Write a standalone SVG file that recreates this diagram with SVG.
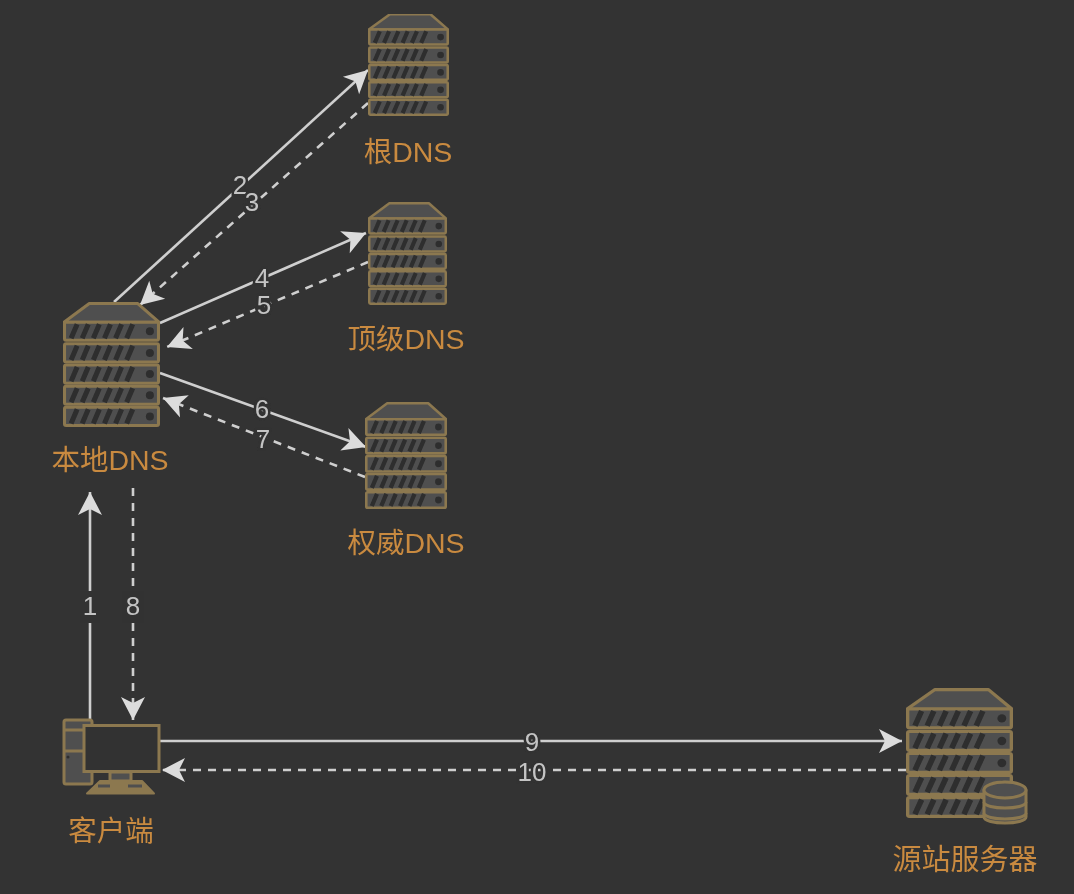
<svg xmlns="http://www.w3.org/2000/svg" width="1074" height="894" viewBox="0 0 1074 894">
<style>
.lbl{font-family:"Liberation Sans","Noto Sans CJK SC",sans-serif;font-size:28.500px;fill:#c98a3f;text-anchor:middle}
.num{font-family:"Liberation Sans",sans-serif;font-size:26px;fill:#c4c4c4;text-anchor:middle;paint-order:stroke;stroke:#333333;stroke-width:5px}
.e{fill:none;stroke:#cfcfcf;stroke-width:2.600;marker-end:url(#arr)}
.d{stroke-dasharray:8 7}
.ic{fill:#505050;stroke:#8c7850;stroke-width:3;stroke-linejoin:round}
.sl{fill:none;stroke:#2e2e2e;stroke-width:5}
.kn{fill:#2e2e2e}
.bg{fill:#333333}
</style>
<defs>
<filter id="soft" x="0" y="0" width="100%" height="100%"><feGaussianBlur stdDeviation="0.700"/></filter>
<marker id="arr" markerUnits="userSpaceOnUse" markerWidth="30" markerHeight="30" viewBox="-26 -15 30 30" refX="0" refY="0" orient="auto">
<path d="M-23,-12 L0,0 L-23,12 L-17,0Z" fill="#dcdcdc"/>
</marker>
<g id="row">
<rect class="ic" x="1.500" y="0" width="93" height="18" rx="1.500"/>
<path class="sl" d="M8,16L14,2M19,16L25,2M30,16L36,2M41,16L47,2M52,16L58,2M63,16L69,2"/>
<circle class="kn" cx="86" cy="9" r="4"/>
</g>
<symbol id="server" viewBox="0 0 96 124" preserveAspectRatio="none">
<path class="ic" d="M26,1.500H74L95,20H1Z"/>
<use href="#row" y="20"/>
<use href="#row" y="41.500"/>
<use href="#row" y="62.500"/>
<use href="#row" y="83.500"/>
<use href="#row" y="104.500"/>
</symbol>
</defs>
<rect width="1074" height="894" fill="#333333"/>
<g filter="url(#soft)">
<g id="connectors">
<path class="e" d="M114,302L368,70"/>
<path class="e d" d="M368,103L140,305"/>
<path class="e" d="M160,323L366,233"/>
<path class="e d" d="M368,262L167,347"/>
<path class="e" d="M160,373L366,447"/>
<path class="e d" d="M365,477L163,398"/>
<path class="e" d="M90,720L90,492"/>
<path class="e d" d="M133,488L133,720"/>
<path class="e" d="M160,741L902,741"/>
<path class="e d" d="M906,770L162,770"/>
<rect class="bg" x="80" y="591" width="20" height="32"/>
<rect class="bg" x="122" y="591" width="22" height="32"/>
<text class="num" x="240" y="194">2</text>
<text class="num" x="252" y="211">3</text>
<text class="num" x="262" y="287">4</text>
<text class="num" x="264" y="314">5</text>
<text class="num" x="262" y="418">6</text>
<text class="num" x="263" y="448">7</text>
<text class="num" x="90" y="615">1</text>
<text class="num" x="133" y="615">8</text>
<text class="num" x="532" y="751">9</text>
<text class="num" x="532" y="781">10</text>
</g>
<g id="root-dns">
<use href="#server" x="368" y="13" width="81" height="103"/>
<text class="lbl" x="408" y="162">根DNS</text>
</g>
<g id="tld-dns">
<use href="#server" x="368" y="202" width="79" height="103"/>
<text class="lbl" x="406" y="349">顶级DNS</text>
</g>
<g id="auth-dns">
<use href="#server" x="365" y="402" width="82" height="107"/>
<text class="lbl" x="406" y="553">权威DNS</text>
</g>
<g id="local-dns">
<use href="#server" x="63" y="302" width="97" height="125"/>
<text class="lbl" x="110" y="470">本地DNS</text>
</g>
<g id="client">
<rect class="ic" x="64" y="720" width="28" height="64" rx="2"/>
<path class="ic" fill="none" d="M64,730H92M64,751H92"/>
<circle class="kn" cx="68" cy="757" r="1.500"/>
<rect x="84" y="725.500" width="75" height="46" fill="#333333" stroke="#8c7850" stroke-width="3"/>
<rect class="ic" x="110" y="772" width="21" height="9"/>
<path d="M87,793.500L100,781H142L154,793.500Z" fill="#8c7850" stroke="#8c7850" stroke-width="2" stroke-linejoin="round"/>
<path d="M98,786H110M128,786H142" stroke="#505050" stroke-width="3"/>
<text class="lbl" x="111" y="841">客户端</text>
</g>
<g id="origin">
<use href="#server" x="906" y="688" width="107" height="130"/>
<path class="ic" d="M984,790V817C984,825 1026,825 1026,817V790Z"/>
<ellipse class="ic" cx="1005" cy="790" rx="21" ry="8"/>
<path class="ic" fill="none" d="M984,802C984,810 1026,810 1026,802M984,813C984,821 1026,821 1026,813"/>
<text class="lbl" x="965" y="870" style="font-size:29px">源站服务器</text>
</g>
</g>
</svg>
